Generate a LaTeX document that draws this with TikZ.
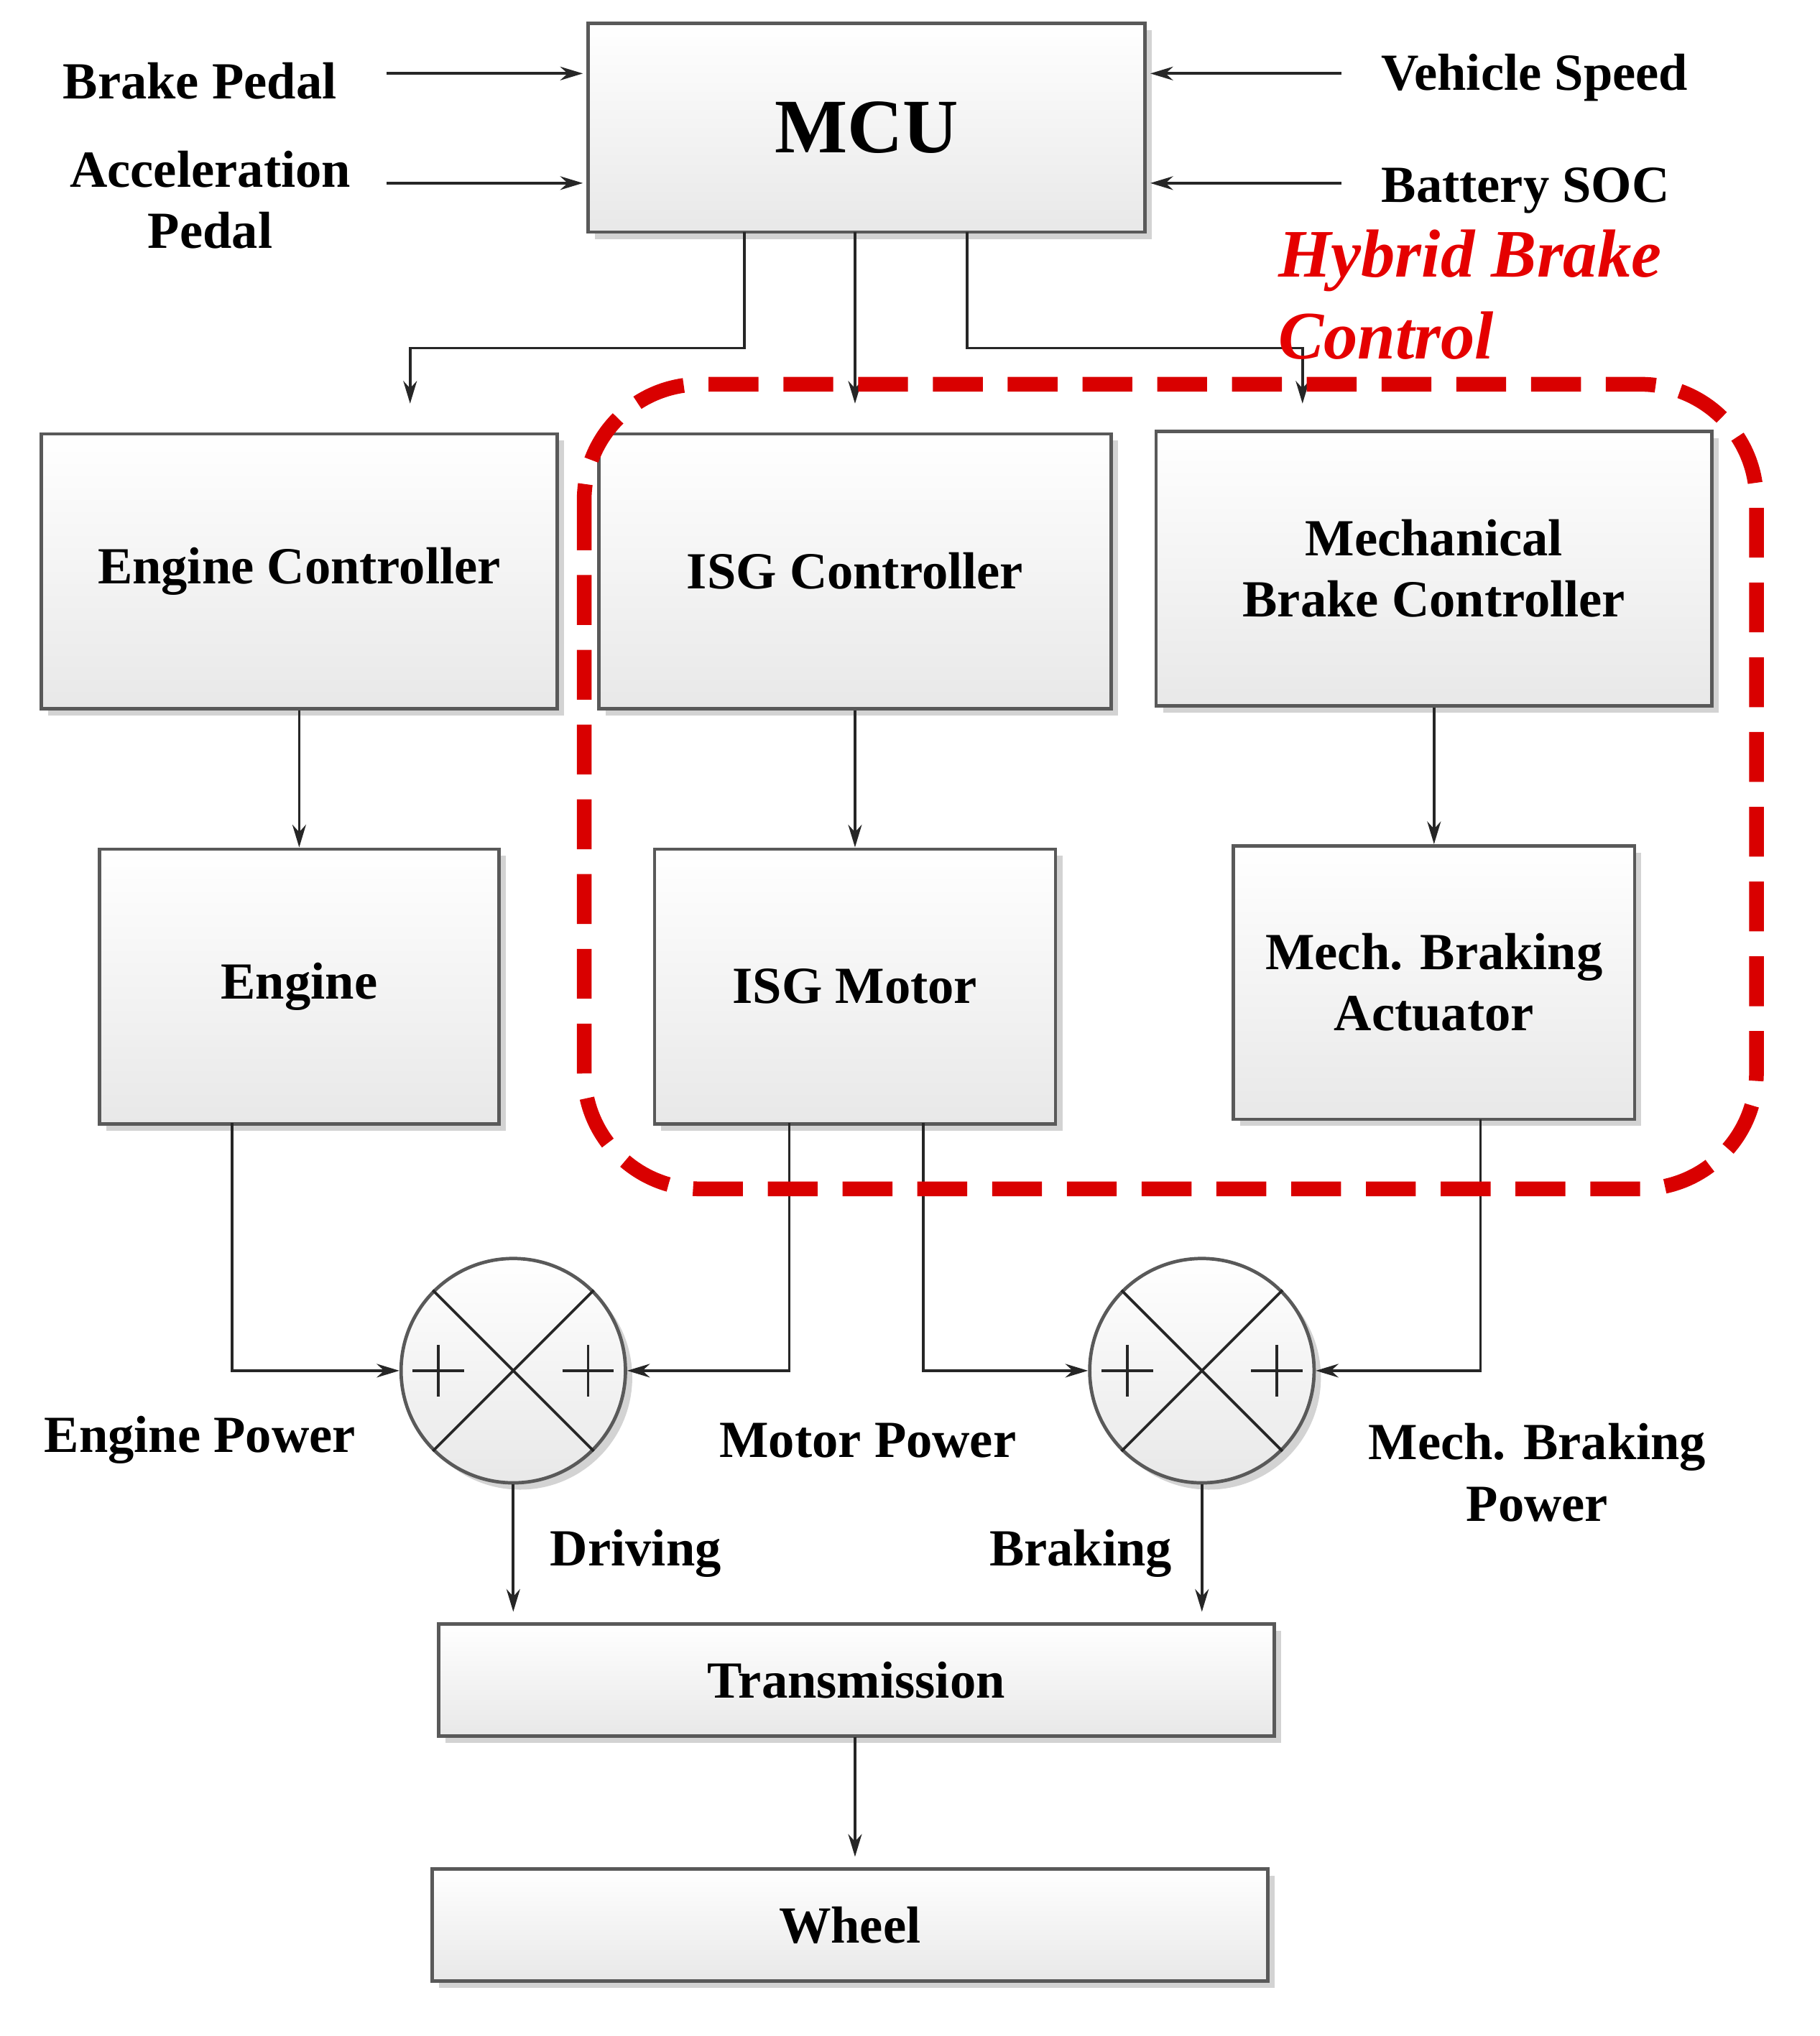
\documentclass[tikz,border=0pt]{standalone}
\usepackage{fontspec}
\setmainfont{Liberation Serif}
\usetikzlibrary{shadows,arrows.meta}
\begin{document}
\begin{tikzpicture}[x=0.02cm,y=-0.02cm,
 box/.style={draw=gray!70!black,line width=1.5pt,top color=white,bottom color=gray!18,drop shadow={opacity=0.35,shadow xshift=3pt,shadow yshift=-3pt}},
 lbl/.style={font=\fontsize{23}{27}\selectfont\bfseries,align=center},
 ar/.style={draw=gray!30!black,line width=1.2pt,-{Stealth[length=10pt,width=6pt]}},
 ln/.style={draw=gray!30!black,line width=1.2pt}]
\useasboundingbox (0,0) rectangle (1411,1579);
% boxes
\node[box,minimum width=432*0.02cm,minimum height=162*0.02cm,lbl,font=\fontsize{34}{38}\selectfont\bfseries] (mcu) at (672,99) {MCU};
\node[box,minimum width=400*0.02cm,minimum height=213*0.02cm,lbl] (ec) at (232,443) {Engine Controller};
\node[box,minimum width=397*0.02cm,minimum height=213*0.02cm,lbl] (ic) at (663,443) {ISG Controller};
\node[box,minimum width=431*0.02cm,minimum height=213*0.02cm,lbl] (mc) at (1112,441) {Mechanical\\Brake Controller};
\node[box,minimum width=310*0.02cm,minimum height=213*0.02cm,lbl] (en) at (232,765) {Engine};
\node[box,minimum width=311*0.02cm,minimum height=213*0.02cm,lbl] (im) at (663,765) {ISG Motor};
\node[box,minimum width=311*0.02cm,minimum height=212*0.02cm,lbl] (ma) at (1112,762) {Mech. Braking\\Actuator};
\node[box,minimum width=648*0.02cm,minimum height=87*0.02cm,lbl] (tr) at (664,1303) {Transmission};
\node[box,minimum width=648*0.02cm,minimum height=87*0.02cm,lbl] (wh) at (659,1493) {Wheel};
% sum circles
\node[circle,box,minimum size=174*0.02cm] (s1) at (398,1063) {};
\node[circle,box,minimum size=174*0.02cm] (s2) at (932,1063) {};
\foreach \s in {s1,s2}{
 \draw[ln] (\s.45) -- (\s.225) (\s.135) -- (\s.315);
 \draw[ln] ([xshift=-58*0.02cm]\s.center) ++(-20,0) -- ++(40,0) ++(-20,-20) -- ++(0,40);
 \draw[ln] ([xshift=58*0.02cm]\s.center) ++(-20,0) -- ++(40,0) ++(-20,-20) -- ++(0,40);}
% inputs
\node[lbl] (bp) at (155,63) {Brake Pedal};
\node[lbl] (ap) at (163,155) {Acceleration\\Pedal};
\node[lbl] (vs) at (1190,60) {Vehicle Speed};
\node[lbl] (bs) at (1183,148) {Battery SOC};
\coordinate (bp1) at (300,57); \coordinate (bp2) at (452,57);
\coordinate (ap1) at (300,142); \coordinate (ap2) at (452,142);
\coordinate (vs1) at (1040,57); \coordinate (vs2) at (892,57);
\coordinate (bs1) at (1040,142); \coordinate (bs2) at (892,142);
\draw[ar] (bp1) -- (bp2); \draw[ar] (ap1) -- (ap2);
\draw[ar] (vs1) -- (vs2); \draw[ar] (bs1) -- (bs2);
% MCU outputs
\coordinate (e1) at (318,313); \coordinate (e2) at (663,313); \coordinate (e3) at (1010,313);
\draw[ar] (577,180) |- (400,270) -| (e1);
\draw[ar] (663,180) -- (e2);
\draw[ar] (750,180) |- (900,270) -| (e3);
\draw[ar] (ec.south) -- (en.north);
\draw[ar] (ic.south) -- (im.north);
\draw[ar] (mc.south) -- (ma.north);
% powers
\draw[ar] (180,871) |- (s1.west);
\draw[ar] (612,871) |- (s1.east);
\draw[ar] (716,871) |- (s2.west);
\draw[ar] (1148,868) |- (s2.east);
\coordinate (d1) at (398,1250); \coordinate (d2) at (932,1250);
\draw[ar] (s1.south) -- (d1);
\draw[ar] (s2.south) -- (d2);
\draw[ar] (663,1347) -- (663,1440);
\node[lbl] at (155,1117) {Engine Power};
\node[lbl] at (673,1117) {Motor Power};
\node[lbl] at (1192,1142) {Mech. Braking\\Power};
\node[lbl] at (493,1205) {Driving};
\node[lbl] at (838,1205) {Braking};
% hybrid region
\draw[red!85!black,line width=6.5pt,dash pattern=on 22pt off 11pt,rounded corners=90*0.02cm] (453,298) rectangle (1362,922);
\node[red!90!black,font=\fontsize{30}{36}\selectfont\bfseries\itshape,align=left,anchor=north west] at (985,172) {Hybrid Brake\\Control};
\end{tikzpicture}
\end{document}
